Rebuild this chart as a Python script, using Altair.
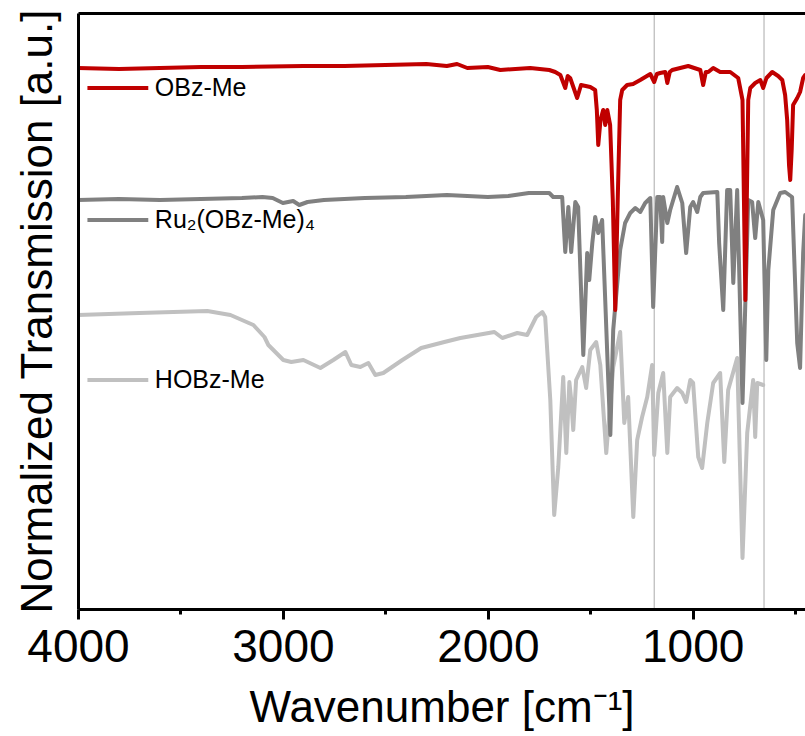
import altair as alt
import pandas as pd

# ---------------- data ----------------
series_names = ["HOBz-Me", "Ru₂(OBz-Me)₄", "OBz-Me"]
series_colors = ["#C0C0C0", "#808080", "#C00000"]

# OBz-Me (red)
red_wn = [4000, 3800, 3600, 3400, 3200, 2900, 2700, 2500, 2300, 2200, 2150, 2100, 2000, 1939, 1793, 1700,
          1671, 1646, 1622, 1610, 1598, 1564, 1545, 1500, 1476, 1468, 1461, 1450, 1437, 1427, 1417, 1403,
          1390, 1378, 1366, 1354, 1344, 1320, 1291, 1256, 1207, 1188, 1175, 1159, 1134, 1124, 1112, 1100,
          1061, 1022, 963, 949, 936, 924, 900, 866, 817, 778, 757, 750, 743, 736, 729, 719, 695, 670, 656,
          640, 612, 583, 563, 549, 539, 530, 524, 517, 510, 490, 476, 461, 451]
red_t = [5.41, 5.40, 5.41, 5.42, 5.42, 5.43, 5.43, 5.44, 5.45, 5.43, 5.45, 5.41, 5.42, 5.39, 5.41, 5.39,
         5.37, 5.34, 5.21, 5.33, 5.31, 5.11, 5.24, 5.22, 5.19, 4.99, 4.64, 4.89, 4.99, 4.84, 4.99, 4.84,
         4.09, 2.99, 4.09, 5.09, 5.19, 5.24, 5.25, 5.29, 5.35, 5.27, 5.35, 5.36, 5.37, 5.26, 5.37, 5.39,
         5.41, 5.43, 5.39, 5.24, 5.37, 5.37, 5.41, 5.37, 5.37, 5.31, 5.09, 4.09, 3.09, 4.09, 5.09, 5.21,
         5.26, 5.29, 5.21, 5.31, 5.37, 5.33, 5.29, 5.14, 4.89, 4.44, 4.29, 4.59, 5.04, 5.11, 5.17, 5.31, 5.34]

# Ru2(OBz-Me)4 (dark grey)
ru_wn = [4000, 3800, 3600, 3400, 3200, 3100, 3050, 3000, 2950, 2920, 2880, 2800, 2600, 2400, 2200, 2100,
         2000, 1900, 1800, 1700, 1681, 1637, 1622, 1607, 1593, 1573, 1559, 1534, 1515, 1505, 1490, 1476,
         1461, 1442, 1427, 1402, 1388, 1354, 1330, 1305, 1280, 1256, 1232, 1207, 1193, 1173, 1159, 1149,
         1144, 1124, 1110, 1076, 1051, 1032, 1012, 998, 978, 963, 949, 880, 871, 851, 832, 817, 802, 783,
         757, 729, 710, 695, 680, 656, 641, 631, 607, 573, 549, 515, 490, 476, 461, 451]
ru_t = [4.09, 4.10, 4.09, 4.10, 4.11, 4.12, 4.11, 4.06, 4.08, 4.04, 4.07, 4.09, 4.11, 4.12, 4.14, 4.13,
        4.12, 4.13, 4.16, 4.16, 4.12, 4.12, 3.57, 4.02, 3.57, 4.07, 4.02, 2.54, 3.56, 3.29, 3.66, 3.92,
        3.76, 3.89, 3.09, 1.74, 2.79, 3.59, 3.86, 3.96, 4.01, 3.97, 4.06, 4.11, 3.02, 4.12, 4.12, 3.67,
        4.12, 3.86, 3.99, 4.22, 4.06, 3.56, 4.02, 4.07, 3.97, 4.12, 4.16, 4.17, 3.66, 2.99, 4.19, 4.19,
        3.26, 4.19, 2.06, 4.09, 4.07, 3.71, 4.07, 3.89, 2.49, 3.39, 3.99, 4.16, 4.17, 4.12, 2.66, 2.41,
        3.56, 3.94]

# HOBz-Me (light grey)
h_wn = [4000, 3700, 3369, 3256, 3144, 3090, 3071, 2998, 2959, 2900, 2817, 2754, 2695, 2666, 2622, 2583,
        2549, 2510, 2417, 2325, 2212, 2134, 1968, 1929, 1856, 1808, 1764, 1734, 1720, 1695, 1676, 1656,
        1632, 1617, 1602, 1593, 1583, 1569, 1539, 1520, 1500, 1471, 1451, 1422, 1388, 1354, 1334, 1315,
        1290, 1271, 1247, 1222, 1198, 1188, 1168, 1144, 1124, 1110, 1076, 1051, 1032, 1012, 998, 973,
        954, 929, 900, 866, 846, 827, 783, 757, 734, 705, 695, 685, 656]
h_t = [2.94, 2.96, 2.98, 2.94, 2.84, 2.72, 2.64, 2.49, 2.47, 2.49, 2.41, 2.49, 2.57, 2.44, 2.42, 2.46,
       2.34, 2.36, 2.49, 2.61, 2.67, 2.71, 2.77, 2.71, 2.76, 2.74, 2.92, 2.97, 2.92, 2.09, 0.94, 1.42,
       2.32, 1.56, 2.27, 2.09, 1.79, 2.29, 2.42, 2.21, 2.59, 2.67, 2.44, 1.56, 2.42, 2.77, 1.86, 2.12,
       0.92, 1.69, 1.92, 2.12, 2.44, 1.54, 2.16, 2.36, 1.56, 2.12, 2.21, 2.16, 2.07, 2.29, 2.26, 1.52,
       1.41, 1.86, 2.26, 2.36, 1.47, 2.19, 2.51, 0.51, 1.76, 2.29, 1.72, 2.26, 2.24]

# thin vertical reference lines
ref_wn = [1188, 652]

# in-plot legend entries (sample line from legend_x0 to legend_x1, label at legend_xt)
legend_levels = [2.29, 3.89, 5.21]
legend_x0 = 3954
legend_x1 = 3657
legend_xt = 3625

x_ticks = [4000, 3500, 3000, 2500, 2000, 1500, 1000, 500]

# ---------------- build tables ----------------
curves = {}
for name, wn, t in [(series_names[0], h_wn, h_t), (series_names[1], ru_wn, ru_t), (series_names[2], red_wn, red_t)]:
    curves[name] = pd.DataFrame({"wn": wn, "t": t, "order": list(range(len(wn)))})

legend_df = pd.DataFrame({
    "series": series_names,
    "level": legend_levels,
    "x0": [legend_x0] * 3,
    "x1": [legend_x1] * 3,
    "xt": [legend_xt] * 3,
})
ref_df = pd.DataFrame({"wn": ref_wn})

FONT = "Liberation Sans"
xscale = alt.Scale(domain=[452, 4000], reverse=True, nice=False, zero=False)
yscale = alt.Scale(domain=[0, 5.96], nice=False, zero=False)
cscale = alt.Scale(domain=series_names, range=series_colors)

x_axis = alt.Axis(
    orient="bottom",
    values=x_ticks, format="d",
    labelExpr="datum.value % 1000 === 0 ? datum.label : ''",
    tickSize={"condition": {"test": "datum.value % 1000 === 0", "value": 10}, "value": 5},
    tickWidth=3, tickColor="black",
    domainColor="black", domainWidth=3,
    labelFont=FONT, labelFontSize=46, labelColor="black", labelPadding=6,
    labelFlush=False, labelOverlap=False,
    title="Wavenumber [cm⁻¹]", titleFont=FONT, titleFontSize=44, titleFontWeight="normal",
    titleColor="black", titlePadding=16, grid=False, zindex=2,
)
y_axis = alt.Axis(
    ticks=False, labels=False, domainColor="black", domainWidth=3, grid=False,
    title="Normalized Transmission [a.u.]", titleFont=FONT, titleFontSize=44,
    titleFontWeight="normal", titleColor="black", titlePadding=18, zindex=2,
)

# frame line along the top of the plot (an axis with no ticks or labels)
refs = alt.Chart(ref_df).mark_rule(color="#AAAAAA", strokeWidth=1).encode(
    x=alt.X("wn:Q", scale=xscale, axis=alt.Axis(orient="top", labels=False, ticks=False, title=None,
                                                 domainColor="black", domainWidth=3, grid=False, zindex=2)),
)

inner = []
for name in series_names:
    inner.append(
        alt.Chart(curves[name]).mark_line(strokeWidth=4, clip=True, strokeJoin="round", strokeCap="round").encode(
            x=alt.X("wn:Q", scale=xscale, axis=x_axis),
            y=alt.Y("t:Q", scale=yscale, axis=y_axis),
            color=alt.value(series_colors[series_names.index(name)]),
            order="order:Q",
        )
    )

leg_lines = alt.Chart(legend_df).mark_rule(strokeWidth=4).encode(
    x=alt.X("x0:Q", scale=xscale, axis=x_axis),
    x2="x1:Q",
    y=alt.Y("level:Q", scale=yscale, axis=y_axis),
    color=alt.Color("series:N", scale=cscale, legend=None),
)
leg_text = alt.Chart(legend_df).mark_text(align="left", baseline="middle", font=FONT, fontSize=25,
                                           color="black").encode(
    x=alt.X("xt:Q", scale=xscale, axis=x_axis),
    y=alt.Y("level:Q", scale=yscale, axis=y_axis),
    text="series:N",
)
inner += [leg_lines, leg_text]

chart = alt.layer(refs, alt.layer(*inner)).resolve_axis(x="independent").properties(
    width=727, height=596,
    autosize=alt.AutoSizeParams(type="none"),
    padding={"left": 78, "top": 13, "right": 0, "bottom": 127},
).configure_view(stroke=None).configure(font=FONT, background="white")

chart.save("out.html", embed_options={"renderer": "svg", "actions": False})
